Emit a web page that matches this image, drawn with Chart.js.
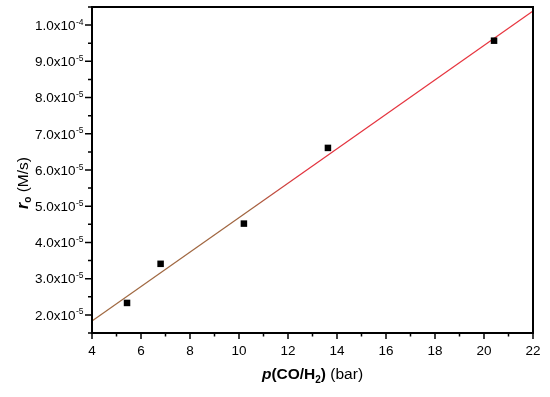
<!DOCTYPE html>
<html>
<head>
<meta charset="utf-8">
<script src="https://cdn.jsdelivr.net/npm/chart.js@4.4.0/dist/chart.umd.min.js"></script>
<style>
  html, body { margin: 0; padding: 0; background: #ffffff; }
  #wrap { width: 550px; height: 397px; position: relative; }
</style>
</head>
<body>
<div id="wrap"><canvas id="c" width="550" height="397"></canvas></div>
<script>
// ---- data ----
const pressure = [5.43, 6.80, 10.20, 13.63, 20.41];           // p(CO/H2) (bar)
const rate = [2.33e-5, 3.41e-5, 4.52e-5, 6.61e-5, 9.57e-5];   // r_o (M/s)
const fitX = [4, 22];
const fitY = [1.83e-5, 1.039e-4];

const xTicks = [4, 6, 8, 10, 12, 14, 16, 18, 20, 22];
const xMinorTicks = [5, 7, 9, 11, 13, 15, 17, 19, 21];
const xTickLabels = ['4', '6', '8', '10', '12', '14', '16', '18', '20', '22'];

const yTicks = [2e-5, 3e-5, 4e-5, 5e-5, 6e-5, 7e-5, 8e-5, 9e-5, 1e-4];
const yMinorTicks = [1.5e-5, 2.5e-5, 3.5e-5, 4.5e-5, 5.5e-5, 6.5e-5, 7.5e-5, 8.5e-5, 9.5e-5, 1.05e-4];
const yTickMantissa = ['2.0x10', '3.0x10', '4.0x10', '5.0x10', '6.0x10', '7.0x10', '8.0x10', '9.0x10', '1.0x10'];
const yTickExponent = ['-5', '-5', '-5', '-5', '-5', '-5', '-5', '-5', '-4'];

const FONT = '"Liberation Sans", Arial, Helvetica, sans-serif';

const decorPlugin = {
  id: 'decor',
  afterDraw(chart) {
    const ctx = chart.ctx;
    const ca = chart.chartArea;
    const xs = chart.scales.x, ys = chart.scales.y;
    ctx.save();
    ctx.strokeStyle = '#000';
    ctx.fillStyle = '#000';
    // frame
    ctx.lineWidth = 2;
    ctx.strokeRect(ca.left, ca.top, ca.right - ca.left, ca.bottom - ca.top);
    ctx.lineWidth = 1.5;
    // x ticks
    ctx.beginPath();
    xTicks.forEach(v => { const px = xs.getPixelForValue(v); ctx.moveTo(px, ca.bottom); ctx.lineTo(px, ca.bottom + 6); });
    xMinorTicks.forEach(v => { const px = xs.getPixelForValue(v); ctx.moveTo(px, ca.bottom); ctx.lineTo(px, ca.bottom + 3.5); });
    // y ticks
    yTicks.forEach(v => { const py = ys.getPixelForValue(v); ctx.moveTo(ca.left, py); ctx.lineTo(ca.left - 7, py); });
    yMinorTicks.forEach(v => { const py = ys.getPixelForValue(v); ctx.moveTo(ca.left, py); ctx.lineTo(ca.left - 4, py); });
    ctx.stroke();

    // x tick labels
    ctx.font = '13.5px ' + FONT;
    ctx.textAlign = 'center';
    ctx.textBaseline = 'alphabetic';
    xTicks.forEach((v, i) => {
      ctx.fillText(xTickLabels[i], xs.getPixelForValue(v), ca.bottom + 22);
    });

    // y tick labels with superscript exponents
    const rightEdge = ca.left - 9;
    yTicks.forEach((v, i) => {
      const py = ys.getPixelForValue(v);
      ctx.font = '13.5px ' + FONT;
      const wm = ctx.measureText(yTickMantissa[i]).width;
      ctx.font = '8.5px ' + FONT;
      const we = ctx.measureText(yTickExponent[i]).width;
      const x0 = rightEdge - wm - we;
      ctx.textAlign = 'left';
      ctx.font = '13.5px ' + FONT;
      ctx.fillText(yTickMantissa[i], x0, py + 4.8);
      ctx.font = '8.5px ' + FONT;
      ctx.fillText(yTickExponent[i], x0 + wm + 0.5, py - 0.5);
    });

    // x axis title: p(CO/H2) (bar)
    const xParts = [
      { t: 'p', f: 'italic bold 15.5px ' + FONT, dy: 0 },
      { t: '(CO/H', f: 'bold 15.5px ' + FONT, dy: 0 },
      { t: '2', f: 'bold 10px ' + FONT, dy: 4 },
      { t: ')', f: 'bold 15.5px ' + FONT, dy: 0 },
      { t: ' (bar)', f: '15.5px ' + FONT, dy: 0 }
    ];
    drawParts(ctx, xParts, (ca.left + ca.right) / 2, 379);

    // y axis title: r_o (M/s), rotated
    ctx.save();
    ctx.translate(28, 183);
    ctx.rotate(-Math.PI / 2);
    const yParts = [
      { t: 'r', f: 'italic bold 16px ' + FONT, dy: 0 },
      { t: 'o', f: 'bold 10px ' + FONT, dy: 3 },
      { t: ' (M/s)', f: '15.5px ' + FONT, dy: 0 }
    ];
    drawParts(ctx, yParts, 0, 0);
    ctx.restore();

    ctx.restore();
  }
};

function drawParts(ctx, parts, cx, baseY) {
  let total = 0;
  parts.forEach(p => { ctx.font = p.f; p.w = ctx.measureText(p.t).width; total += p.w; });
  let x = cx - total / 2;
  ctx.textAlign = 'left';
  ctx.textBaseline = 'alphabetic';
  parts.forEach(p => { ctx.font = p.f; ctx.fillText(p.t, x, baseY + p.dy); x += p.w; });
}

new Chart(document.getElementById('c'), {
  type: 'scatter',
  data: {
    datasets: [
      {
        label: 'fit',
        data: fitX.map((x, i) => ({ x: x, y: fitY[i] })),
        showLine: true,
        pointRadius: 0,
        borderWidth: 1.2,
        borderColor: (c) => {
          const chart = c.chart;
          const ca = chart.chartArea;
          if (!ca) return '#e0323e';
          const g = chart.ctx.createLinearGradient(ca.left, 0, ca.right, 0);
          g.addColorStop(0, '#a06a42');
          g.addColorStop(0.36, '#a0643f');
          g.addColorStop(0.47, '#e2323e');
          g.addColorStop(1, '#e8363f');
          return g;
        },
        order: 2
      },
      {
        label: 'data',
        data: pressure.map((x, i) => ({ x: x, y: rate[i] })),
        pointStyle: 'rect',
        pointRadius: 4.6,
        pointBorderWidth: 0,
        backgroundColor: '#000',
        borderColor: '#000',
        order: 1
      }
    ]
  },
  options: {
    responsive: false,
    animation: false,
    devicePixelRatio: 1,
    layout: { padding: { left: 0, right: 17, top: 7, bottom: 0 } },
    plugins: { legend: { display: false }, tooltip: { enabled: false } },
    scales: {
      x: {
        type: 'linear', min: 4, max: 22,
        grid: { display: false }, border: { display: false },
        ticks: { display: false },
        afterFit: (s) => { s.height = 64; }
      },
      y: {
        type: 'linear', min: 1.5e-5, max: 1.05e-4,
        grid: { display: false }, border: { display: false },
        ticks: { display: false },
        afterFit: (s) => { s.width = 92; }
      }
    }
  },
  plugins: [decorPlugin]
});
</script>
</body>
</html>
